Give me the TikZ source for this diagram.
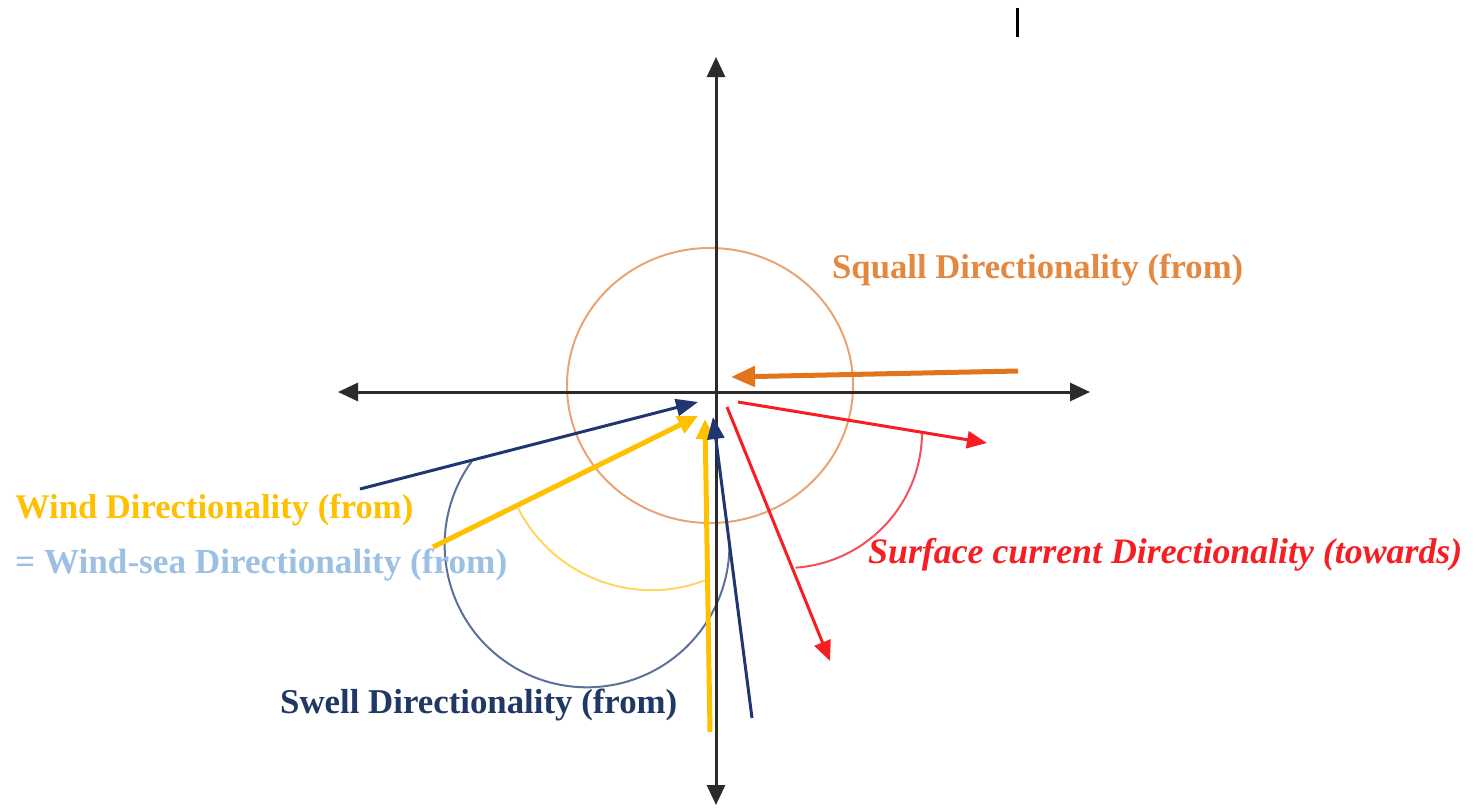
\documentclass[tikz,border=0pt]{standalone}
\usepackage{fontspec}
\setmainfont{Liberation Serif}
\usetikzlibrary{arrows.meta}
\definecolor{axisc}{HTML}{2B2B2B}
\definecolor{sqarrow}{HTML}{E2741C}
\definecolor{sqcircle}{HTML}{EAA474}
\definecolor{sqtext}{HTML}{E4873F}
\definecolor{redc}{HTML}{F51E23}
\definecolor{redarc}{HTML}{F4505C}
\definecolor{windc}{HTML}{FFC000}
\definecolor{windarc}{HTML}{FFD660}
\definecolor{navyc}{HTML}{1F3670}
\definecolor{navyarc}{HTML}{5C7098}
\definecolor{seatext}{HTML}{9CC0E4}
\definecolor{swelltext}{HTML}{1F3864}
\begin{document}
\begin{tikzpicture}[x=1bp,y=-1bp,
  axisline/.style={draw=axisc,line width=3bp,{Triangle[length=20bp,width=18bp]}-{Triangle[length=20bp,width=18bp]}},
  sqarr/.style={draw=sqarrow,line width=5bp,-{Triangle[length=24bp,width=20bp]}},
  redarr/.style={draw=redc,line width=3bp,-{Triangle[length=20bp,width=17bp]}},
  windarr/.style={draw=windc,line width=5bp,-{Triangle[length=20bp,width=18bp]}},
  navyarr/.style={draw=navyc,line width=3bp,-{Triangle[length=22bp,width=17bp]}},
  arcline/.style={line width=2bp},
  lbl/.style={inner sep=0pt,anchor=base west}]
\useasboundingbox (0,0) rectangle (1479,807);
% coordinates
\coordinate (O) at (716,392);
\coordinate (axL) at (338,392);
\coordinate (axR) at (1090,392);
\coordinate (axT) at (716,57);
\coordinate (axB) at (716,805);
\coordinate (tickA) at (1017,8);
\coordinate (tickB) at (1017,37);
% squall circle
\draw[sqcircle,arcline] (710,385.5) ellipse [x radius=143, y radius=137.5];
% arcs
\draw[redarc,arcline] (922,432) arc[start angle=0,end angle=86,radius=136];
\draw[windarc,arcline] (518,508) arc[start angle=153.1,end angle=68.8,radius=150];
\draw[navyarc,arcline] (472,461) arc[start angle=216.1,end angle=0,radius=142.4];
% axes
\draw[axisline] (axL) -- (axR);
\draw[axisline] (axB) -- (axT);
\draw[black,line width=3bp] (tickA) -- (tickB);
% squall arrow
\coordinate (sqS) at (1018,371);
\coordinate (sqE) at (731,377);
\draw[sqarr] (sqS) -- (sqE);
% surface current arrows
\coordinate (r1S) at (738,402);
\coordinate (r1E) at (987,443);
\coordinate (r2S) at (727,407);
\coordinate (r2E) at (830,661);
\draw[redarr] (r1S) -- (r1E);
\draw[redarr] (r2S) -- (r2E);
% wind arrows
\coordinate (w1S) at (433,547);
\coordinate (w1E) at (698,416);
\coordinate (w2S) at (710,732);
\coordinate (w2E) at (705,419);
\draw[windarr] (w1S) -- (w1E);
\draw[windarr] (w2S) -- (w2E);
% swell arrows
\coordinate (n1S) at (360,489);
\coordinate (n1E) at (698,402);
\coordinate (n2S) at (752,718);
\coordinate (n2E) at (713,417);
\draw[navyarr] (n1S) -- (n1E);
\draw[navyarr] (n2S) -- (n2E);
% labels
\node[lbl,text=sqtext] (tsq) at (832,278) {\resizebox{411bp}{!}{\bfseries Squall Directionality (from)}};
\node[lbl,text=windc] (twind) at (15,518) {\resizebox{398bp}{!}{\bfseries Wind Directionality (from)}};
\node[lbl,text=seatext] (tsea) at (15,573) {\resizebox{492bp}{!}{\bfseries = Wind-sea Directionality (from)}};
\node[lbl,text=swelltext] (tswell) at (280,713) {\resizebox{397bp}{!}{\bfseries Swell Directionality (from)}};
\node[lbl,text=redc] (tsurf) at (868,563) {\resizebox{594bp}{!}{\bfseries\itshape Surface current Directionality (towards)}};
\end{tikzpicture}
\end{document}
